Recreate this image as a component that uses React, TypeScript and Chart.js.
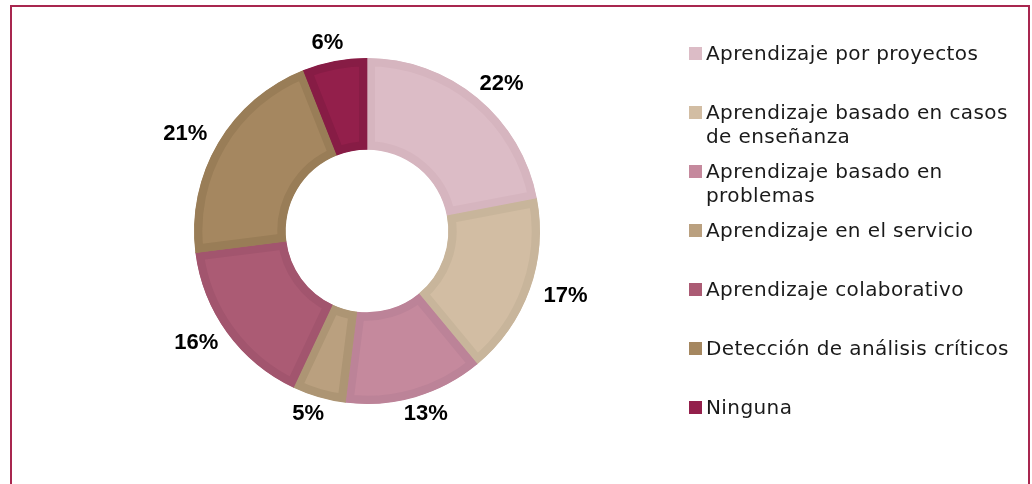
import React, { useEffect, useRef } from "react";
import { Chart, registerables } from "chart.js";

Chart.register(...registerables);

const categories = [
  "Aprendizaje por proyectos",
  "Aprendizaje basado en casos de enseñanza",
  "Aprendizaje basado en problemas",
  "Aprendizaje en el servicio",
  "Aprendizaje colaborativo",
  "Detección de análisis críticos",
  "Ninguna",
];
const legendLines = [
  ["Aprendizaje por proyectos"],
  ["Aprendizaje basado en casos", "de enseñanza"],
  ["Aprendizaje basado en", "problemas"],
  ["Aprendizaje en el servicio"],
  ["Aprendizaje colaborativo"],
  ["Detección de análisis críticos"],
  ["Ninguna"],
];
const values = [22, 17, 13, 5, 16, 21, 6];
const fillColors = ["#dcbcc6", "#d2bda3", "#c5899d", "#baa07f", "#ab5b74", "#a58760", "#931f4b"];
const borderColors = ["#d6b5bf", "#c8b59b", "#bc8398", "#ad9574", "#a2556e", "#997d57", "#871c45"];

const labelPlugin = {
  id: "outsideLabels",
  afterDatasetsDraw(chart: any) {
    const ctx = chart.ctx;
    const meta = chart.getDatasetMeta(0);
    ctx.save();
    ctx.font = "bold 22px 'Liberation Sans', Arial, sans-serif";
    ctx.fillStyle = "#000";
    ctx.textAlign = "center";
    ctx.textBaseline = "middle";
    meta.data.forEach((arc: any, i: number) => {
      const { x, y, startAngle, endAngle, outerRadius } = arc.getProps(
        ["x", "y", "startAngle", "endAngle", "outerRadius"],
        true
      );
      const mid = (startAngle + endAngle) / 2;
      const rx = outerRadius + 38;
      const ry = outerRadius + 18;
      ctx.fillText(values[i] + "%", x + Math.cos(mid) * rx, y + Math.sin(mid) * ry);
    });
    ctx.restore();
  },
};

export default function App() {
  const ref = useRef<HTMLCanvasElement>(null);
  useEffect(() => {
    if (!ref.current) return;
    const chart = new Chart(ref.current, {
      type: "doughnut",
      data: {
        labels: categories,
        datasets: [
          {
            data: values,
            backgroundColor: fillColors,
            borderColor: borderColors,
            borderWidth: 8,
            borderAlign: "inner",
            hoverBorderWidth: 8,
          },
        ],
      },
      options: {
        animation: false,
        responsive: false,
        maintainAspectRatio: false,
        cutout: "47%",
        layout: { padding: { left: 194, top: 58, right: 492, bottom: 80 } },
        plugins: { legend: { display: false }, tooltip: { enabled: false } },
      },
      plugins: [labelPlugin],
    });
    return () => chart.destroy();
  }, []);

  return (
    <div style={{ position: "fixed", left: 0, top: 0, width: 1032, height: 484, background: "#fff", overflow: "hidden" }}>
      <div
        style={{
          position: "absolute",
          left: 10,
          top: 5,
          width: 1016,
          height: 520,
          border: "2.5px solid #a8264f",
        }}
      />
      <canvas ref={ref} width={1032} height={484} style={{ position: "absolute", left: 0, top: 0 }} />
      <div
        style={{
          position: "absolute",
          left: 689,
          top: 41,
          fontFamily: "'DejaVu Sans', sans-serif",
          fontSize: 20,
          letterSpacing: "0.4px",
          color: "#1a1a1a",
        }}
      >
        {legendLines.map((lines, i) => (
          <div key={i} style={{ position: "relative", height: 59 }}>
            <div
              style={{
                position: "absolute",
                left: 0,
                top: 6,
                width: 13,
                height: 13,
                background: fillColors[i],
              }}
            />
            <div style={{ position: "absolute", left: 17, top: 0, lineHeight: "24px", whiteSpace: "nowrap" }}>
              {lines.map((l, j) => (
                <div key={j}>{l}</div>
              ))}
            </div>
          </div>
        ))}
      </div>
    </div>
  );
}
